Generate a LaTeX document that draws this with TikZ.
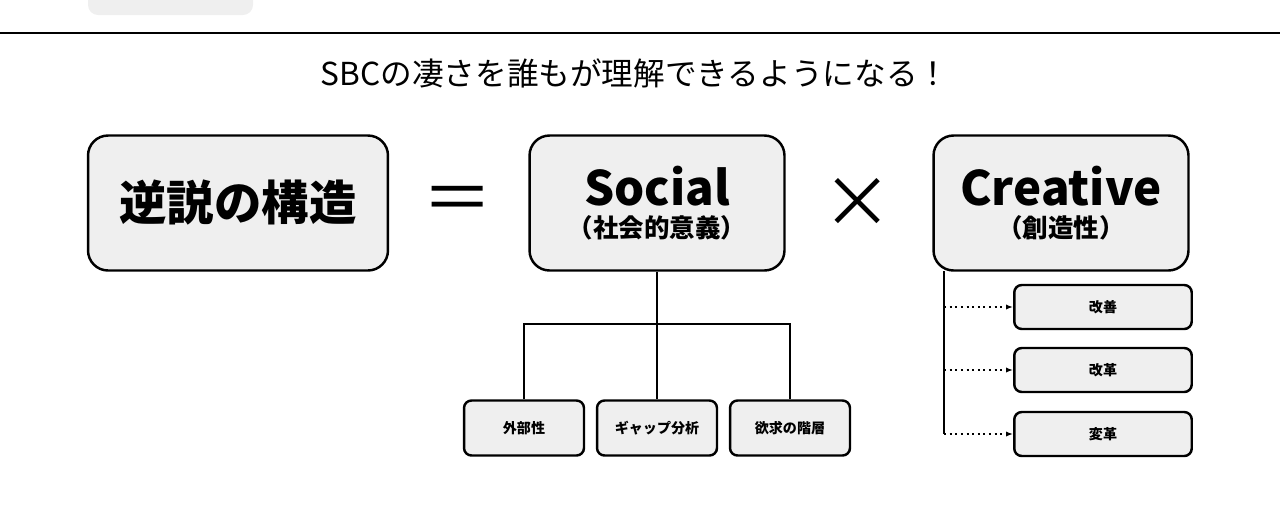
\documentclass[tikz,border=0pt]{standalone}
\usepackage{fontspec}
\setmainfont{Noto Sans CJK JP}
\usetikzlibrary{arrows.meta}
\definecolor{boxgray}{HTML}{EFEFEF}
\tikzset{
    bigbox/.style={draw, line width=1.4pt, fill=boxgray, rounded corners=0.4cm,
        minimum width=5.1cm, minimum height=2.7cm, align=center},
    smallbox/.style={draw, line width=1.4pt, fill=boxgray, rounded corners=0.15cm,
        minimum width=2.4cm, minimum height=1.1cm, font=\fontsize{8}{10}\selectfont\bfseries},
    tree/.style={line width=1.4pt},
    dotarrow/.style={line width=1.2pt, dotted, -{Latex[length=4pt]}}
}
\begin{document}
\begin{tikzpicture}[x=0.02cm, y=-0.02cm]
    \useasboundingbox (0,0) rectangle (1280,528);
    \fill[boxgray, rounded corners=0.2cm] (88,-20) rectangle (253,15);
    \draw[line width=1.2pt] (0,33) -- (1280,33);
    \node (sub) at (635,73) {\fontsize{18}{20}\selectfont SBCの凄さを誰もが理解できるようになる！};
    \node[bigbox, minimum width=6cm] (paradox) at (238,203) {\fontsize{27}{30}\selectfont\bfseries 逆説の構造};
    \node (eq) at (458,205) {\fontsize{40}{40}\selectfont ＝};
    \node[bigbox] (social) at (657,203) {\fontsize{27}{30}\selectfont\bfseries Social\\[4pt]\fontsize{14.5}{16}\selectfont\bfseries （社会的意義）};
    \node (times) at (858,203) {\fontsize{40}{40}\selectfont ×};
    \node[bigbox] (creative) at (1061,203) {\fontsize{27}{30}\selectfont\bfseries Creative\\[4pt]\fontsize{14.5}{16}\selectfont\bfseries （創造性）};
    % Social branches
    \node[smallbox] (ext) at (524,428) {外部性};
    \node[smallbox] (gap) at (657,428) {ギャップ分析};
    \node[smallbox] (need) at (790,428) {欲求の階層};
    \coordinate (fork) at (657,324);
    \draw[tree] (social.south) -- (gap.north);
    \draw[tree] (ext.north) |- (fork) -| (need.north);
    % Creative branches
    \node[smallbox, minimum width=3.55cm, minimum height=0.88cm] (kaizen) at (1103,307) {改善};
    \node[smallbox, minimum width=3.55cm, minimum height=0.88cm] (kaikaku) at (1103,370) {改革};
    \node[smallbox, minimum width=3.55cm, minimum height=0.88cm] (henkaku) at (1103,434) {変革};
    \coordinate (trunk) at (944,271);
    \coordinate (leaf) at (944,434);
    \draw[tree, line width=1.2pt] (trunk) -- (leaf);
    \foreach \b in {kaizen, kaikaku, henkaku}
        \draw[dotarrow] (trunk |- \b.west) -- (\b.west);
\end{tikzpicture}
\end{document}
